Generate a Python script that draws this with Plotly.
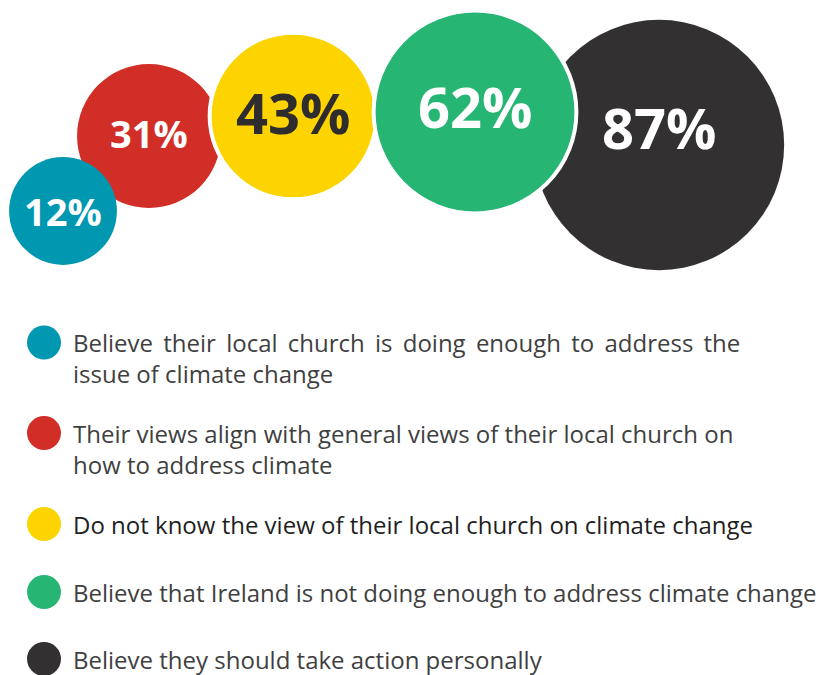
import plotly.graph_objects as go

# Data
VALUES = [12, 31, 43, 62, 87]
LABELS = [
    "Believe their local church is doing enough to address the<br>issue of climate change",
    "Their views align with general views of their local church on<br>how to address climate",
    "Do not know the view of their local church on climate change",
    "Believe that Ireland is not doing enough to address climate change",
    "Believe they should take action personally",
]
COLORS = ["#0097B1", "#D22E28", "#FDD300", "#27B573", "#323031"]

# Layout (pixel space, y grows downward)
W, H = 824, 675
BUBBLE_X = [63, 149, 293, 475, 659]
BUBBLE_Y = [211, 136, 116, 112, 145]
TEXT_LIFT = [0, 3, 4, 6, 18]
TEXT_COLOR = ["white", "white", "#2E2C2D", "white", "white"]
BORDER = [0, 0, 4, 4, 0]
DRAW_ORDER = [4, 1, 0, 2, 3]      # dark under green, teal over red, etc.
LEGEND_X = 44
LEGEND_Y = [342.5, 433, 524, 592, 659]
LEGEND_TEXT_COLOR = ["#3F3F3F", "#3F3F3F", "#1F1F1F", "#3F3F3F", "#3F3F3F"]
LEGEND_SIZE = 24

FONT = "Open Sans"


def radius(v):
    return 42.5 + 0.95 * v


def justify(label):
    # first line of the first item is justified in the reference: widen its gaps
    first, _, rest = label.partition("<br>")
    return first.replace(" ", " \u2006") + ("<br>" + rest if rest else "")


fig = go.Figure()

for i in DRAW_ORDER:
    fig.add_trace(go.Scatter(
        x=[BUBBLE_X[i]], y=[BUBBLE_Y[i]],
        mode="markers",
        marker=dict(
            size=2 * radius(VALUES[i]),
            color=COLORS[i],
            line=dict(color="white", width=BORDER[i]),
            opacity=1,
        ),
        hoverinfo="skip",
        showlegend=False,
    ))

for i, v in enumerate(VALUES):
    fig.add_annotation(
        x=BUBBLE_X[i], y=BUBBLE_Y[i], yshift=TEXT_LIFT[i],
        text=f"{v}%", showarrow=False,
        font=dict(family=FONT, size=56 if v > 40 else 38,
                  color=TEXT_COLOR[i], weight=700),
    )

# Legend dots + text
fig.add_trace(go.Scatter(
    x=[LEGEND_X] * len(VALUES), y=LEGEND_Y,
    mode="markers",
    marker=dict(size=34, color=COLORS, line=dict(width=0)),
    hoverinfo="skip", showlegend=False,
))
for i, lab in enumerate(LABELS):
    n_lines = lab.count("<br>") + 1
    fig.add_annotation(
        x=72, y=LEGEND_Y[i], yshift=-(n_lines - 1) * LEGEND_SIZE * 1.3 / 2,
        xanchor="left", yanchor="middle", align="left", borderpad=0,
        text=justify(lab) if i == 0 else lab, showarrow=False,
        font=dict(family=FONT, size=LEGEND_SIZE, color=LEGEND_TEXT_COLOR[i]),
    )

fig.update_layout(
    width=W, height=H, autosize=False,
    margin=dict(l=0, r=0, t=0, b=0),
    paper_bgcolor="white", plot_bgcolor="white",
    xaxis=dict(range=[0, W], visible=False, fixedrange=True),
    yaxis=dict(range=[H, 0], visible=False, fixedrange=True),
)

fig.write_html(
    "out.html",
    config={"displayModeBar": False},
    post_script="document.body.style.margin='0';document.body.style.overflow='hidden';",
)
